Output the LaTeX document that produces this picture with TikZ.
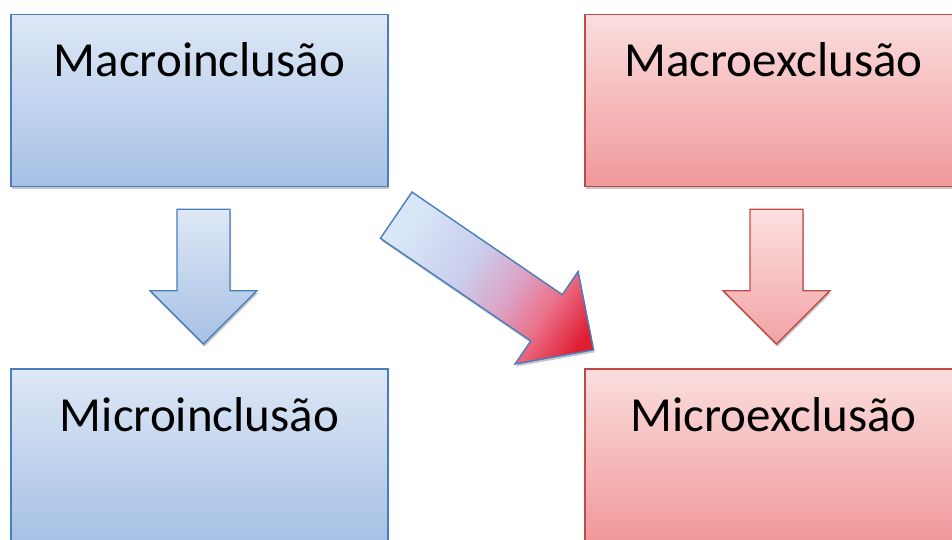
\documentclass[tikz,border=0pt]{standalone}
\usepackage{fontspec}
\setmainfont{Carlito}
\usetikzlibrary{calc,shadows}
\definecolor{bborder}{RGB}{74,126,187}
\definecolor{btop}{RGB}{222,232,246}
\definecolor{bbot}{RGB}{166,192,229}
\definecolor{rborder}{RGB}{190,75,72}
\definecolor{rtop}{RGB}{251,222,222}
\definecolor{rbot}{RGB}{240,152,154}
\definecolor{ratop}{RGB}{252,224,224}
\definecolor{rabot}{RGB}{242,163,164}
\pgfdeclarehorizontalshading{diagshade}{100bp}{rgb(0bp)=(0.87,0.91,0.97); rgb(26bp)=(0.85,0.90,0.97); rgb(44bp)=(0.79,0.81,0.93); rgb(57bp)=(0.86,0.64,0.78); rgb(67bp)=(0.92,0.45,0.55); rgb(79bp)=(0.88,0.12,0.2); rgb(100bp)=(0.88,0.12,0.2)}
\begin{document}
\begin{tikzpicture}[x=1pt,y=-1pt,
  boxshadow/.style={drop shadow={shadow xshift=1pt,shadow yshift=-2.5pt,opacity=0.22,fill=black}},
  boxbase/.style={line width=1.4pt, minimum width=377pt, minimum height=172pt, inner sep=0pt, boxshadow},
  bluebox/.style={boxbase, draw=bborder, top color=btop, bottom color=bbot},
  redbox/.style={boxbase, draw=rborder, top color=rtop, bottom color=rbot},
  boxtext/.style={anchor=base, font=\fontsize{49}{58}\selectfont, text=black, inner sep=0pt},
  bluearrow/.style={draw=bborder, line width=1.4pt, line join=miter, top color=btop, bottom color=bbot, boxshadow},
  redarrow/.style={draw=rborder, line width=1.4pt, line join=miter, top color=ratop, bottom color=rabot, boxshadow},
  diagarrow/.style={draw=bborder, line width=1.4pt, line join=miter, shade, shading=diagshade, shading angle=-34.3, boxshadow}
]
\clip (0,0) rectangle (952,540);
\useasboundingbox (0,0) rectangle (952,540);
\fill[white] (0,0) rectangle (952,540);

\node[bluebox] (b1) at (199.5,100.5) {};
\node[redbox]  (b2) at (773.5,100.5) {};
\node[bluebox] (b3) at (199.5,455) {};
\node[redbox]  (b4) at (773.5,455) {};

\node[boxtext] (t1) at ($(b1.north)+(0,62.5)$) {Macroinclusão};
\node[boxtext] (t2) at ($(b2.north)+(0,62.5)$) {Macroexclusão};
\node[boxtext] (t3) at ($(b3.north)+(0,63)$) {Microinclusão};
\node[boxtext] (t4) at ($(b4.north)+(0,63)$) {Microexclusão};

\coordinate (c1) at ($(b1.south)+(4,0)$);
\coordinate (c2) at ($(b2.south)+(3,0)$);
\coordinate (d0) at ($(b1.south east)+(7.5,28)$);

\begin{scope}[shift={(c1)}]
  \draw[bluearrow] (-26.5,22) -- (26.5,22) -- (26.5,103.5) -- (53.5,103.5) -- (0,157) -- (-53.5,103.5) -- (-26.5,103.5) -- cycle;
\end{scope}
\begin{scope}[shift={(c2)}]
  \draw[redarrow] (-26.5,22) -- (26.5,22) -- (26.5,103.5) -- (53.5,103.5) -- (0,157) -- (-53.5,103.5) -- (-26.5,103.5) -- cycle;
\end{scope}
\begin{scope}[shift={(d0)}, rotate=-34.3]
  \draw[diagarrow] (0,-28) -- (182,-28) -- (182,-56) -- (239,0) -- (182,56) -- (182,28) -- (0,28) -- cycle;
\end{scope}
\end{tikzpicture}
\end{document}
